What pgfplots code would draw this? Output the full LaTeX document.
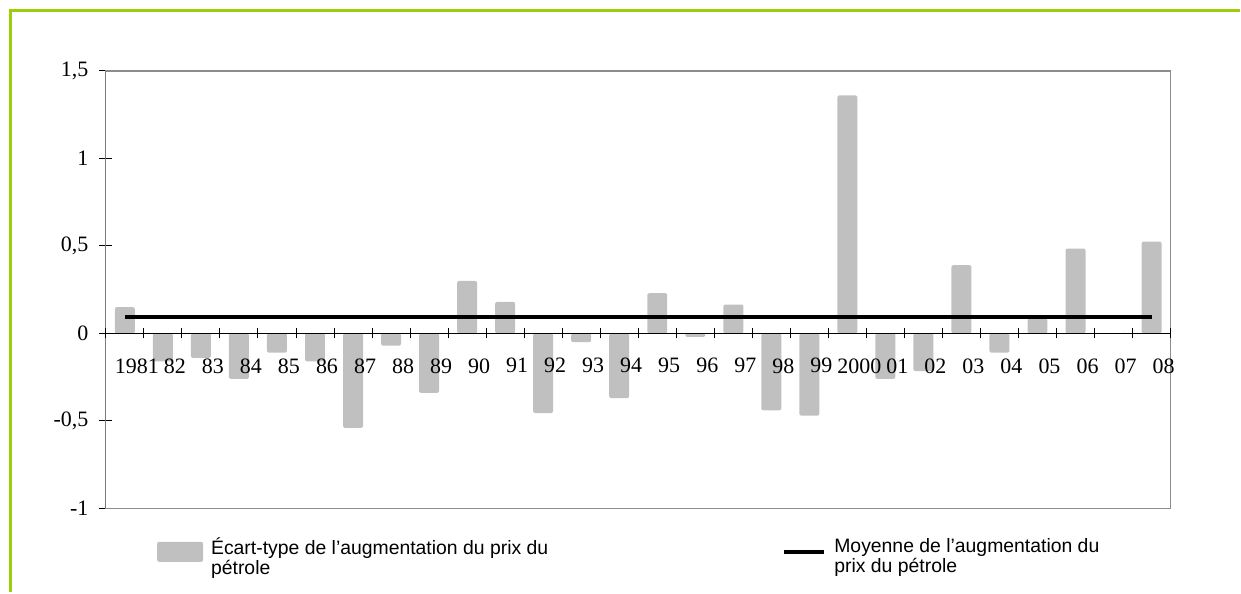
\documentclass[border=0pt]{standalone}
\usepackage{fontspec}
\setmainfont{Liberation Serif}
\newfontfamily\legfont{Liberation Sans}
\usepackage{pgfplots}
\usepackage{pgfplotstable}
\pgfplotsset{compat=1.18}
\definecolor{barGray}{RGB}{192,192,192}
\definecolor{frameGray}{RGB}{140,140,140}
\definecolor{limeGreen}{RGB}{158,206,10}

\pgfplotstableread{
x val
0 0.15
1 -0.16
2 -0.14
3 -0.26
4 -0.11
5 -0.16
6 -0.54
7 -0.07
8 -0.34
9 0.30
10 0.18
11 -0.455
12 -0.05
13 -0.37
14 0.23
15 -0.02
16 0.165
17 -0.44
18 -0.47
19 1.36
20 -0.26
21 -0.215
22 0.39
23 -0.11
24 0.085
25 0.485
26 0
27 0.525
}\ecart

\pgfplotstableread{
x val
0 0.093
1 0.093
2 0.093
3 0.093
4 0.093
5 0.093
6 0.093
7 0.093
8 0.093
9 0.093
10 0.093
11 0.093
12 0.093
13 0.093
14 0.093
15 0.093
16 0.093
17 0.093
18 0.093
19 0.093
20 0.093
21 0.093
22 0.093
23 0.093
24 0.093
25 0.093
26 0.093
27 0.093
}\moyenne

\begin{document}
\begin{tikzpicture}
\begin{axis}[
  name=main, at={(0,0)}, anchor=south west,
  scale only axis, width=533pt, height=219pt,
  xmin=-0.5, xmax=27.5, ymin=-1, ymax=1.5,
  xtick=\empty,
  ytick={-1,-0.5,0,0.5,1,1.5},
  ytick pos=left,
  tick align=center,
  major tick length=6.5pt,
  ytick style={black, line width=0.5pt},
  axis line style={draw=frameGray, line width=0.6pt},
  /pgf/number format/use comma,
  /pgf/number format/assume math mode=true,
  yticklabel style={font=\fontsize{11}{12}\selectfont, xshift=-2pt},
  legend columns=2,
  legend style={
    at={(0.0478,-0.066)}, anchor=north west,
    draw=none, fill=none, inner sep=0pt,
    font=\legfont\fontsize{9.7}{10}\selectfont,
    nodes={inner sep=0pt},
    cells={anchor=west},
    /tikz/every odd column/.append style={column sep=4pt},
  },
]
\addplot[ybar, bar width=10pt, fill=barGray, draw=none, rounded corners=1pt,
  legend image code/.code={\fill[barGray, rounded corners=1pt] (0pt,-5pt) rectangle (23pt,5pt);}]
  table[x=x, y=val] {\ecart};
\addlegendentry{\parbox{286pt}{Écart-type de l’augmentation du prix du\\pétrole}}
\addplot[black, line width=2.2pt, mark=none,
  legend image code/.code={\draw[black, line width=2pt] (0pt,0pt) -- (20pt,0pt);}]
  table[x=x, y=val] {\moyenne};
\addlegendentry{\parbox{150pt}{Moyenne de l’augmentation du\\prix du pétrole}}
\draw[black, line width=0.5pt] (rel axis cs:0,0) -- (rel axis cs:0,1);
\end{axis}
\begin{axis}[
  at={(0,0)}, anchor=south west,
  scale only axis, width=533pt, height=219pt,
  xmin=-0.5, xmax=27.5, ymin=-1, ymax=1.5,
  axis x line*=middle, axis y line=none,
  axis line style={black, line width=0.5pt},
  xtick={0,...,27},
  xticklabels={1981,82,83,84,85,86,87,88,89,90,91,92,93,94,95,96,97,98,99,2000,01,02,03,04,05,06,07,08},
  major tick length=0pt,
  minor xtick={-0.5,0.5,...,27.5},
  minor tick length=5pt,
  tick align=center,
  xtick style={black, line width=0.5pt},
  minor tick style={black, line width=0.5pt},
  xticklabel style={font=\fontsize{11}{12}\selectfont, xshift=6pt, yshift=-9pt},
]
\end{axis}
\draw[limeGreen, line width=1.5pt] (-47.75pt,-42pt) -- (-47.75pt,249.25pt) -- (567.5pt,249.25pt);
\path[use as bounding box] (-53pt,-42pt) rectangle (567.5pt,254.5pt);
\end{tikzpicture}
\end{document}
